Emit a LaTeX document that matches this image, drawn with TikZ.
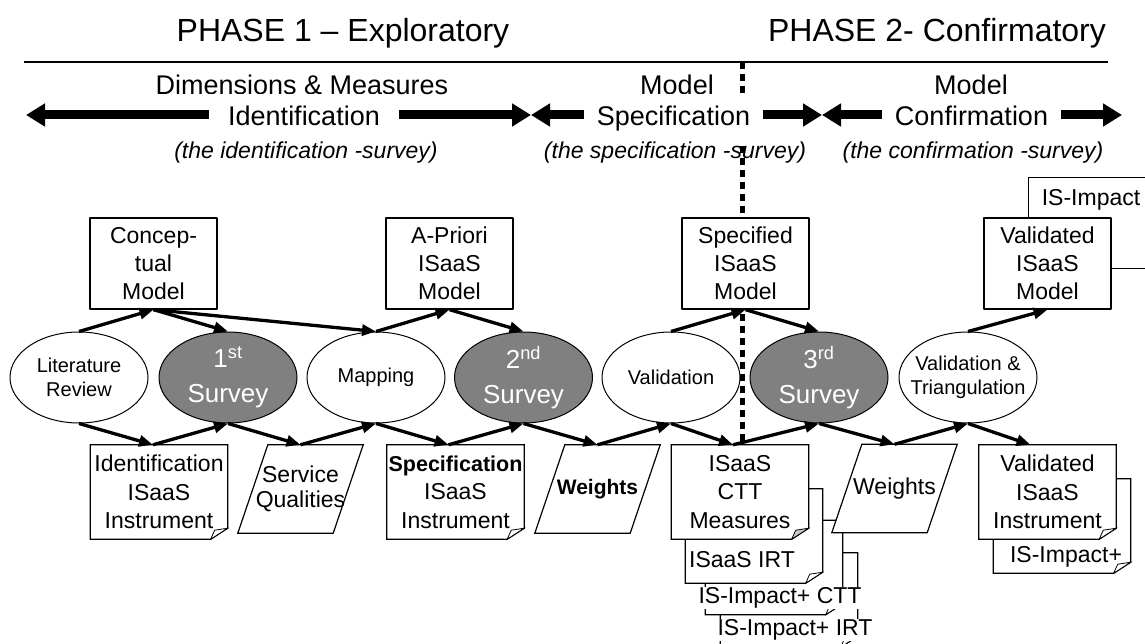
\documentclass[tikz,border=0pt]{standalone}
\usepackage{fontspec}
\setmainfont{Liberation Sans}
\usetikzlibrary{shapes.geometric,arrows.meta,backgrounds}
\definecolor{surveygray}{RGB}{128,128,128}
\definecolor{foldgray}{RGB}{200,200,200}
% outline of a document with a folded corner, drawn behind the nodes
\newcommand{\docframe}[2]{%
	\begin{pgfonlayer}{background}
		\draw[line width=1.3pt,fill=white] (#1.north west)--(#1.north east)--([yshift=11pt]#1.south east)--([xshift=-17pt]#1.south east)--(#1.south west)--cycle;
		\draw[line width=0.8pt,fill=#2] ([xshift=-17pt]#1.south east)--([xshift=-13pt,yshift=9pt]#1.south east)--([yshift=11pt]#1.south east)--cycle;
	\end{pgfonlayer}}
% slanted data outline
\newcommand{\dataframe}[1]{%
	\begin{pgfonlayer}{background}
		\draw[line width=1.2pt,fill=white] ([xshift=30pt]#1.north west)--(#1.north east)--([xshift=-30pt]#1.south east)--(#1.south west)--cycle;
	\end{pgfonlayer}}
\begin{document}
\begin{tikzpicture}[x=1pt,y=-1pt,line join=round]
	\tikzset{model/.style={draw,fill=white,line width=1.3pt,minimum width=127pt,minimum height=91pt,inner sep=0pt,align=center,font=\fontsize{23}{28}\selectfont},
		stage/.style={ellipse,draw,fill=white,line width=1pt,minimum width=138pt,minimum height=91pt,inner sep=0pt,align=center,font=\fontsize{20}{24}\selectfont},
		survey/.style={stage,fill=surveygray,text=white,font=\fontsize{26}{35}\selectfont},
		docbox/.style={minimum width=137pt,minimum height=94pt,inner sep=0pt,align=center,font=\fontsize{23}{28.5}\selectfont},
		doctext/.style={inner sep=1pt,font=\fontsize{23}{28}\selectfont},
		databox/.style={minimum width=125pt,minimum height=88pt,inner sep=1pt,align=center,font=\fontsize{23}{25}\selectfont},
		hdr/.style={anchor=base,font=\fontsize{27}{32}\selectfont},
		hdrmid/.style={hdr,fill=white,inner ysep=12pt},
		note/.style={anchor=base,font=\fontsize{23}{28}\selectfont\itshape},
		flow/.style={line width=3.3pt,-{Triangle[length=14pt,width=11pt]}},
		span/.style={line width=9pt,-{Triangle[length=19pt,width=22pt]}},
		divider/.style={line width=5pt,dash pattern=on 7pt off 5pt}}
	\useasboundingbox (0,0) rectangle (1145,644);
	\begin{pgfonlayer}{background}
		\fill[white] (0,0) rectangle (1145,644);
	\end{pgfonlayer}
	% phases
	\node[anchor=base,font=\fontsize{32}{38}\selectfont] (phase1) at (343,42) {PHASE 1 – Exploratory};
	\node[anchor=base,font=\fontsize{32}{38}\selectfont] (phase2) at (937,42) {PHASE 2- Confirmatory};
	\coordinate (ruleL) at (24,62);
	\coordinate (ruleR) at (1108,62);
	\draw[line width=1.8pt] (ruleL)--(ruleR);
	\coordinate (divtop) at (742,62);
	\coordinate (divbot) at (742,445);
	\draw[divider] (divtop)--(divbot);
	% stages
	\node[hdr] (dimA) at (302,95) {Dimensions \& Measures};
	\node[hdrmid,inner xsep=19pt] (dimB) at (304,126) {Identification};
	\node[note] (dimC) at (306,159) {(the identification -survey)};
	\node[hdr] (specA) at (677,95) {Model};
	\node[hdrmid,inner xsep=13pt] (specB) at (673.5,126) {Specification};
	\node[note] (specC) at (675,159) {(the specification -survey)};
	\node[hdr] (confA) at (971,95) {Model};
	\node[hdrmid,inner xsep=13pt] (confB) at (971.5,126) {Confirmation};
	\node[note] (confC) at (973,159) {(the confirmation -survey)};
	\coordinate (tip1) at (26,115);
	\coordinate (tip2) at (531,115);
	\coordinate (tip3) at (822,115);
	\coordinate (tip4) at (1122,115);
	\draw[span] (dimB.west |- tip1)--(tip1);
	\draw[span] (dimB.east |- tip2)--(tip2);
	\draw[span] (specB.west |- tip2)--(tip2);
	\draw[span] (specB.east |- tip3)--(tip3);
	\draw[span] (confB.west |- tip3)--(tip3);
	\draw[span] (confB.east |- tip4)--(tip4);
	% models
	\node[model] (concept) at (153.5,263.5) {Concep-\\tual\\Model};
	\node[model] (apriori) at (449.5,263.5) {A-Priori\\ISaaS\\Model};
	\node[model] (specmod) at (745.5,263.5) {Specified\\ISaaS\\Model};
	\node[draw,fill=white,line width=1.3pt,minimum width=150pt,minimum height=91pt,anchor=north west] (impact) at (1028,177) {};
	\node[doctext] (impactlbl) at (1091,200) {IS-Impact};
	\node[model] (valmod) at (1047.5,263.5) {Validated\\ISaaS\\Model};
	% activities
	\node[stage] (lit) at (79,377.5) {Literature\\Review};
	\node[survey] (srv1) at (228,377.5) {1\textsuperscript{st}\\Survey};
	\node[stage] (mapping) at (376,377.5) {Mapping};
	\node[survey] (srv2) at (523.5,377.5) {2\textsuperscript{nd}\\Survey};
	\node[stage] (valid) at (671,377.5) {Validation};
	\node[survey] (srv3) at (819,377.5) {3\textsuperscript{rd}\\Survey};
	\node[stage,inner xsep=-10pt] (triang) at (968,377.5) {Validation \&\\Triangulation};
	% instruments
	\node[docbox] (impirt) at (789,600) {};
	\docframe{impirt}{white}
	\node[docbox] (impctt) at (774,567.5) {};
	\docframe{impctt}{white}
	\node[docbox] (irt) at (754,536) {};
	\docframe{irt}{white}
	\node[docbox] (ctt) at (740,492) {ISaaS\\CTT\\Measures};
	\docframe{ctt}{foldgray}
	\node[docbox] (impplus) at (1062,526) {};
	\docframe{impplus}{white}
	\node[docbox] (valinst) at (1047.5,492) {Validated\\ISaaS\\Instrument};
	\docframe{valinst}{white}
	\node[docbox] (ident) at (159,492) {Identification\\ISaaS\\Instrument};
	\docframe{ident}{white}
	\node[docbox] (specins) at (455.5,492) {{\fontsize{21.5}{28.5}\selectfont\bfseries Specification}\\ISaaS\\Instrument};
	\docframe{specins}{white}
	\node[doctext] (irtlbl) at (742,560) {ISaaS IRT};
	\node[doctext,fill=white] (impcttlbl) at (780,598) {IS-Impact+ CTT};
	\node[doctext,fill=white] (impirtlbl) at (795,630) {IS-Impact+ IRT};
	\node[doctext] (impluslbl) at (1066,557) {IS-Impact+};
	% data
	\node[databox] (quals) at (300.5,489) {Service\\Qualities};
	\dataframe{quals}
	\node[databox,font=\fontsize{21}{25}\selectfont\bfseries] (wgt1) at (597.5,489) {Weights};
	\dataframe{wgt1}
	\node[databox] (wgt2) at (894.5,488.5) {Weights};
	\dataframe{wgt2}
	\coordinate (identtop) at ([xshift=-6pt]ident.north);
	\coordinate (specinstop) at ([xshift=-7pt]specins.north);
	\coordinate (ctttop) at ([xshift=-7pt]ctt.north);
	\coordinate (valinsttop) at ([xshift=-17pt]valinst.north);
	% flows
	\foreach \a/\b in {lit.north/concept.south,concept.south/srv1.north,concept.south/mapping.north,mapping.north/apriori.south,apriori.south/srv2.north,valid.north/specmod.south,specmod.south/srv3.north,triang.north/valmod.south}
	\draw[flow] (\a)--(\b);
	\foreach \a/\b in {lit.south/identtop,identtop/srv1.south,srv1.south/quals.north,quals.north/mapping.south,mapping.south/specinstop,specinstop/srv2.south,srv2.south/wgt1.north,wgt1.north/valid.south,valid.south/ctttop,ctttop/srv3.south,srv3.south/wgt2.north,wgt2.north/triang.south,triang.south/valinsttop}
	\draw[flow] (\a)--(\b);
\end{tikzpicture}
\end{document}
